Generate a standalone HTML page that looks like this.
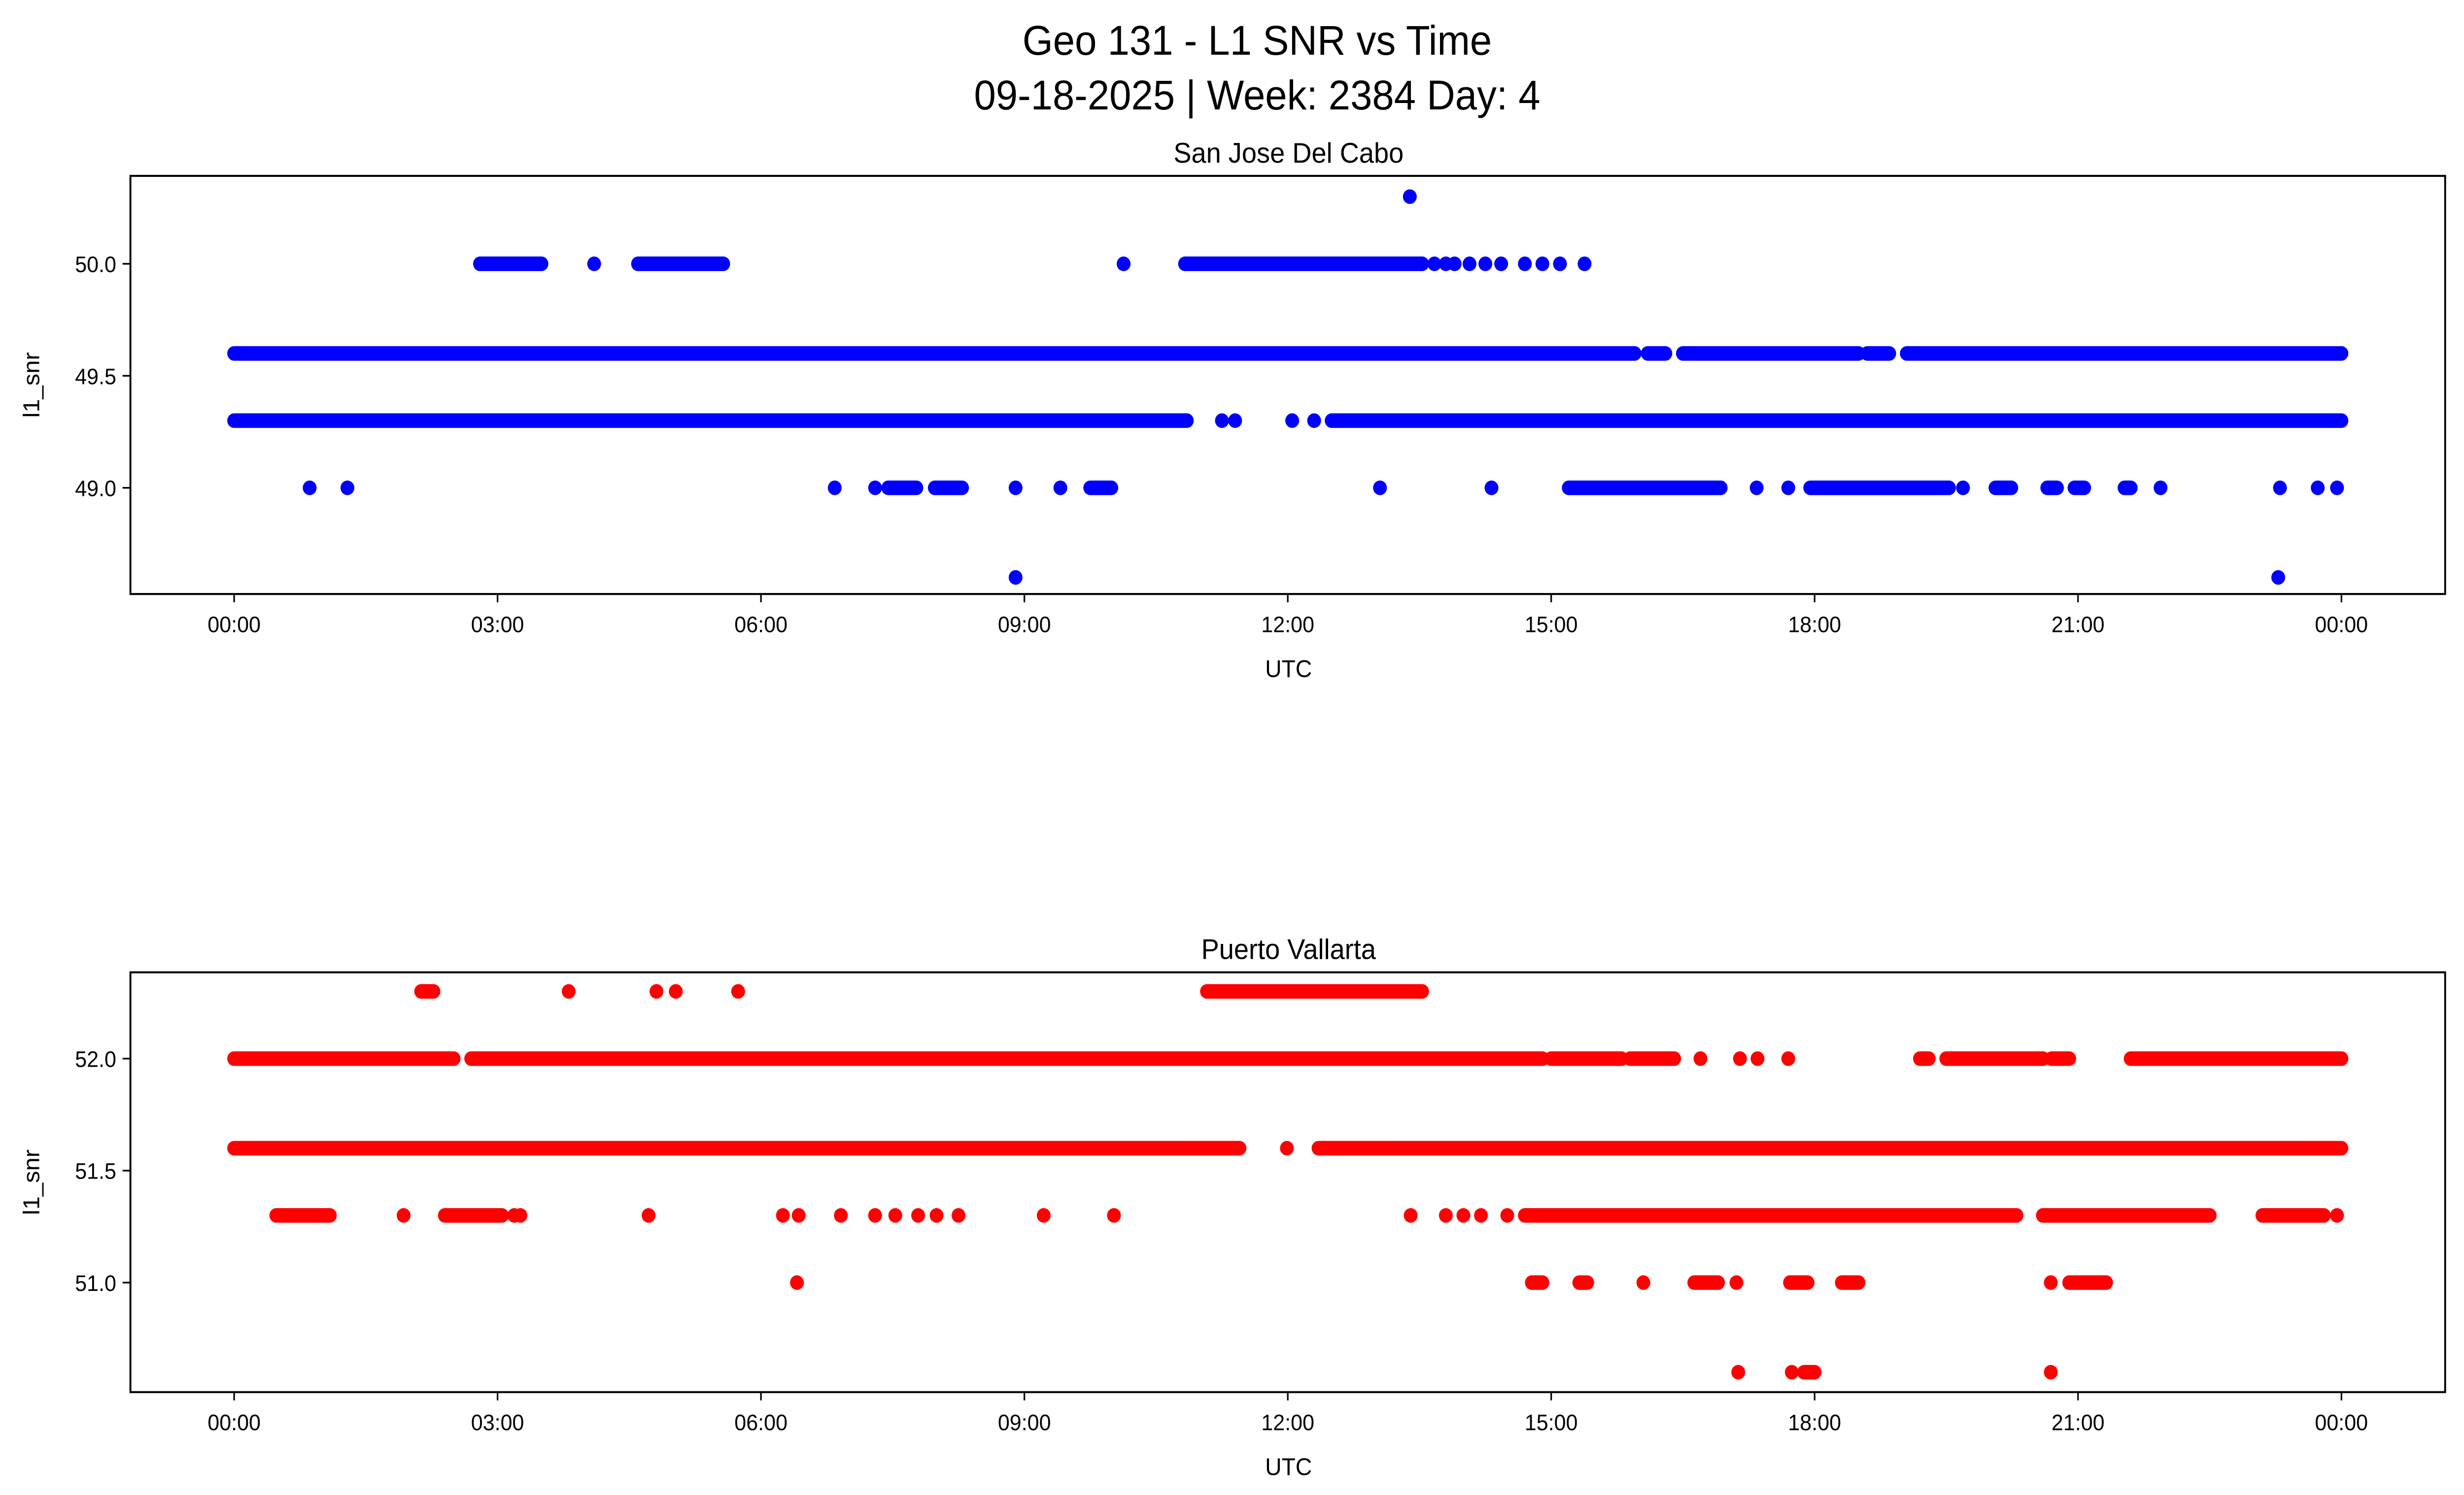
<!DOCTYPE html>
<html><head><meta charset="utf-8">
<meta name="viewport" content="width=device-width, initial-scale=1">
<style>
html,body{margin:0;padding:0;background:#fff;width:100%;height:100%;overflow:hidden;}
svg{display:block;width:100vw;height:100vh;}
text{font-family:"Liberation Sans","DejaVu Sans",sans-serif;fill:#000;}
</style></head><body>
<svg id="chart" viewBox="0 0 1568 901" preserveAspectRatio="none" xmlns="http://www.w3.org/2000/svg">
<text x="800" y="33" font-size="25" text-anchor="middle">Geo 131 - L1 SNR vs Time</text>
<text x="800" y="66" font-size="25" text-anchor="middle">09-18-2025 | Week: 2384 Day: 4</text>
<g id="p1"></g>
<g id="p2"></g>
</svg>
<script>
// x ticks (hours)
const xTickHours = [0,3,6,9,12,15,18,21,24];
const xTickLabels = ["00:00","03:00","06:00","09:00","12:00","15:00","18:00","21:00","00:00"];
// Panel 1: San Jose Del Cabo
const sjTicks = [49.0,49.5,50.0];
const sjSegLevels = [49.6,49.6,49.6,49.6,49.6, 49.3,49.3, 50.0,50.0,50.0, 49.0,49.0,49.0,49.0,49.0,49.0,49.0,49.0,49.0];
const sjSegStart  = [0,16.1,16.5,18.6,19.05, 0,12.5, 2.8,4.6,10.83, 7.45,7.98,9.75,15.2,17.95,20.06,20.65,20.96,21.53];
const sjSegEnd    = [15.95,16.3,18.5,18.85,24, 10.85,24, 3.5,5.57,13.53, 7.77,8.29,9.99,16.93,19.53,20.24,20.76,21.07,21.6];
const sjPtLevels = [49.3,49.3,49.3,49.3, 50.0,50.0,50.0,50.0,50.0,50.0,50.0,50.0,50.0,50.0,50.0,50.0, 50.3, 49.0,49.0,49.0,49.0,49.0,49.0,49.0,49.0,49.0,49.0,49.0,49.0,49.0,49.0,49.0, 48.6,48.6];
const sjPtHours  = [11.25,11.4,12.05,12.3, 4.1,10.13,13.67,13.8,13.9,14.07,14.25,14.43,14.7,14.9,15.1,15.38,13.39, 0.86,1.29,6.84,7.3,8.9,9.41,13.05,14.32,17.34,17.7,19.69,21.94,23.3,23.73,23.95, 8.9,23.28];
// Panel 2: Puerto Vallarta
const pvTicks = [51.0,51.5,52.0];
const pvSegLevels = [52.3,52.3, 52.0,52.0,52.0,52.0,52.0,52.0,52.0,52.0, 51.6,51.6, 51.3,51.3,51.3,51.3,51.3, 51.0,51.0,51.0,51.0,51.0,51.0, 50.6];
const pvSegStart  = [2.13,11.08, 0,2.7,15.0,15.9,19.2,19.5,20.7,21.6, 0,12.35, 0.48,2.4,14.7,20.6,23.1, 14.78,15.32,16.63,17.72,18.31,20.9, 17.88];
const pvSegEnd    = [2.27,13.53, 2.5,14.9,15.8,16.4,19.3,20.6,20.9,24, 11.45,24, 1.09,3.05,20.3,22.5,23.8, 14.9,15.41,16.9,17.92,18.5,21.32, 18.0];
const pvPtLevels = [52.3,52.3,52.3,52.3, 52.0,52.0,52.0,52.0, 51.6, 51.3,51.3,51.3,51.3,51.3,51.3,51.3,51.3,51.3,51.3,51.3,51.3,51.3,51.3,51.3,51.3,51.3,51.3,51.3,51.3, 51.0,51.0,51.0,51.0, 50.6,50.6,50.6];
const pvPtHours  = [3.81,4.81,5.03,5.74, 16.7,17.15,17.35,17.7, 11.99, 1.93,3.19,3.26,4.72,6.25,6.43,6.91,7.3,7.53,7.79,8.0,8.25,9.22,10.02,13.4,13.8,14.0,14.2,14.5,23.95, 6.41,16.05,17.11,20.69, 17.13,17.74,20.69];

const NS="http://www.w3.org/2000/svg";
function mk(parent,tag,attrs){const e=document.createElementNS(NS,tag);for(const k in attrs)e.setAttribute(k,attrs[k]);parent.appendChild(e);return e;}
const X0=83,X1=1556;
function xs(h){return 149+h*(1341/24);}
function panel(g,title,top,bottom,yA,yAval,yB,yBval,ticks,color,segL,segS,segE,ptL,ptH){
  function ys(v){return yA+(v-yAval)*(yB-yA)/(yBval-yAval);}
  const t=mk(g,'text',{x:820,y:top-8,'font-size':17,'text-anchor':'middle'});t.textContent=title;
  
  
  const marks=mk(g,'g',{});
  
  
  for(let i=0;i<segL.length;i++){
    const l=mk(marks,'line',{x1:xs(segS[i]),x2:xs(segE[i]),y1:ys(segL[i]),y2:ys(segL[i]),stroke:color,'stroke-width':8.8,'stroke-linecap':'round'});
    
    
  }
  for(let i=0;i<ptL.length;i++){
    const c=mk(marks,'ellipse',{cx:xs(ptH[i]),cy:ys(ptL[i]),rx:4.4,ry:4.4,fill:color});
    
    
  }
  const fr=mk(g,'rect',{x:X0,y:top,width:X1-X0,height:bottom-top,fill:'none',stroke:'#000','stroke-width':1.2});
  
  
  for(let i=0;i<xTickHours.length;i++){
    const x=xs(xTickHours[i]);
    mk(g,'line',{x1:x,x2:x,y1:bottom,y2:bottom+5,stroke:'#000','stroke-width':1});
    const tl=mk(g,'text',{x:x,y:bottom+23,'font-size':13.5,'text-anchor':'middle'});tl.textContent=xTickLabels[i];
    
    
  }
  for(const v of ticks){
    const y=ys(v);
    mk(g,'line',{x1:X0-5,x2:X0,y1:y,y2:y,stroke:'#000','stroke-width':1});
    const tl=mk(g,'text',{x:X0-9,y:y+5,'font-size':13.5,'text-anchor':'end'});tl.textContent=v.toFixed(1);
    
    
  }
  const xt=mk(g,'text',{x:820,y:bottom+50,'font-size':14.5,'text-anchor':'middle'});xt.textContent='UTC';
  
  
  const cy=(top+bottom)/2;
  const yt=mk(g,'text',{x:25,y:cy,'font-size':14.5,'text-anchor':'middle',transform:'rotate(-90 25 '+cy+')'});yt.textContent='l1_snr';
  
  
}
panel(document.getElementById('p1'),'San Jose Del Cabo',106,358,159,50.0,294,49.0,sjTicks,'#0000ff',sjSegLevels,sjSegStart,sjSegEnd,sjPtLevels,sjPtHours);
panel(document.getElementById('p2'),'Puerto Vallarta',586,839,638,52.0,773,51.0,pvTicks,'#ff0000',pvSegLevels,pvSegStart,pvSegEnd,pvPtLevels,pvPtHours);
</script>
</body></html>
